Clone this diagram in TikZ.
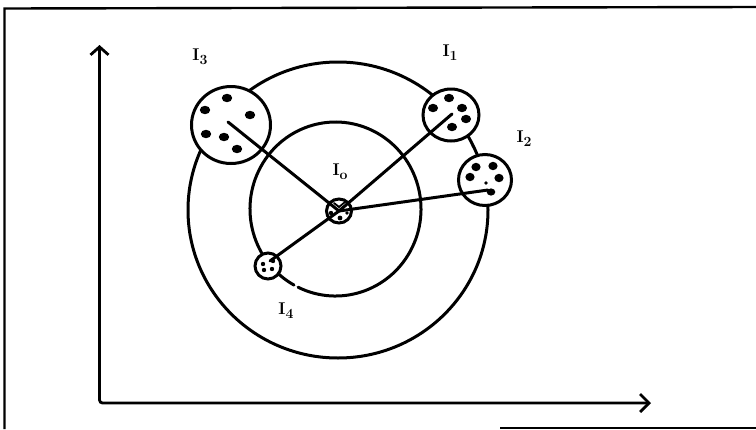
\documentclass[tikz,border=0pt]{standalone}
\usetikzlibrary{arrows.meta,shapes.geometric}
\begin{document}
\begin{tikzpicture}[x=1pt,y=-1pt,
  ink/.style={line width=3pt, line cap=round, line join=round},
  blob/.style={ellipse, draw, line width=3pt, fill=white, inner sep=0pt},
  lbl/.style={font=\bfseries\fontsize{17}{17}\selectfont, inner sep=0pt}]
\useasboundingbox (0,0) rectangle (756,429);
% frame
\draw[line width=2.4pt] (4.5,429) -- (4.5,8.5) -- (756,7);
\draw[line width=1.4pt] (500,428) -- (756,428);
% axes
\coordinate (ytop) at (99.5,45);
\coordinate (xend) at (651,403);
\draw[line width=2.8pt, rounded corners=3pt,
  {Straight Barb[length=8pt,width=18pt]}-{Straight Barb[length=9pt,width=18pt]}]
  (ytop) |- (xend);
% orbits
\draw[ink] (338,210) ellipse[x radius=150, y radius=148];
\draw[ink] (294.05,285.1) arc[start angle=119, end angle=476, x radius=85.5, y radius=87];
% clusters
\node[blob, minimum width=79pt, minimum height=77pt] (I3) at (231,125) {};
\node[blob, minimum width=56pt, minimum height=52pt] (I1) at (451,115) {};
\node[blob, minimum width=53pt, minimum height=51pt] (I2) at (485,180) {};
\node[blob, minimum width=26pt, minimum height=26pt] (I4) at (268,266) {};
\node[blob, minimum width=25pt, minimum height=24pt] (I0) at (339,211) {};
% spoke starts
\coordinate (s3) at (228,122);
\coordinate (s1) at (452,114);
\coordinate (s2) at (488,190);
\coordinate (s4) at (270,261);
\draw[ink] (s3) -- (I0.center);
\draw[ink] (s1) -- (I0.center);
\draw[ink] (s2) -- (I0.center);
\draw[ink] (s4) -- (I0.center);
% dots I3
\foreach \p in {(227,98),(205,110),(250,115),(206,134),(224,137),(237,149)}
  \fill \p ellipse[x radius=5.2, y radius=4.2];
% dots I1
\foreach \p in {(449,98),(433,108),(462,108),(466,119),(452,127)}
  \fill \p ellipse[x radius=5, y radius=4.2];
% dots I2
\foreach \p in {(476,167),(493,166),(470,177),(499,178)}
  \fill \p ellipse[x radius=4.6, y radius=4.2];
\fill (491,192) ellipse[x radius=4.3, y radius=3.6];
\fill (486,183) circle[radius=1.8];
\fill (473,146) circle[radius=1.5];
% dots I4
\foreach \p in {(263,264),(264,270),(272,269),(273,261)}
  \fill \p circle[radius=2.2];
% I0 interior
\fill (331,213) circle[radius=2.2];
\fill (340,218) circle[radius=2.4];
\fill (347,213) circle[radius=1.8];
\draw[line width=1.8pt, line cap=round] (334,203) -- (339,207) -- (345,202);
% labels
\node[lbl] (L3) at (200,57) {I\raisebox{-4pt}{\fontsize{14}{14}\selectfont 3}};
\node[lbl] (L1) at (450,53) {I\raisebox{-4pt}{\fontsize{14}{14}\selectfont 1}};
\node[lbl] (L2) at (524,139) {I\raisebox{-4pt}{\fontsize{14}{14}\selectfont 2}};
\node[lbl] (L0) at (340,172) {I\raisebox{-4pt}{\fontsize{14}{14}\selectfont o}};
\node[lbl] (L4) at (286,311) {I\raisebox{-4pt}{\fontsize{14}{14}\selectfont 4}};
\end{tikzpicture}
\end{document}
